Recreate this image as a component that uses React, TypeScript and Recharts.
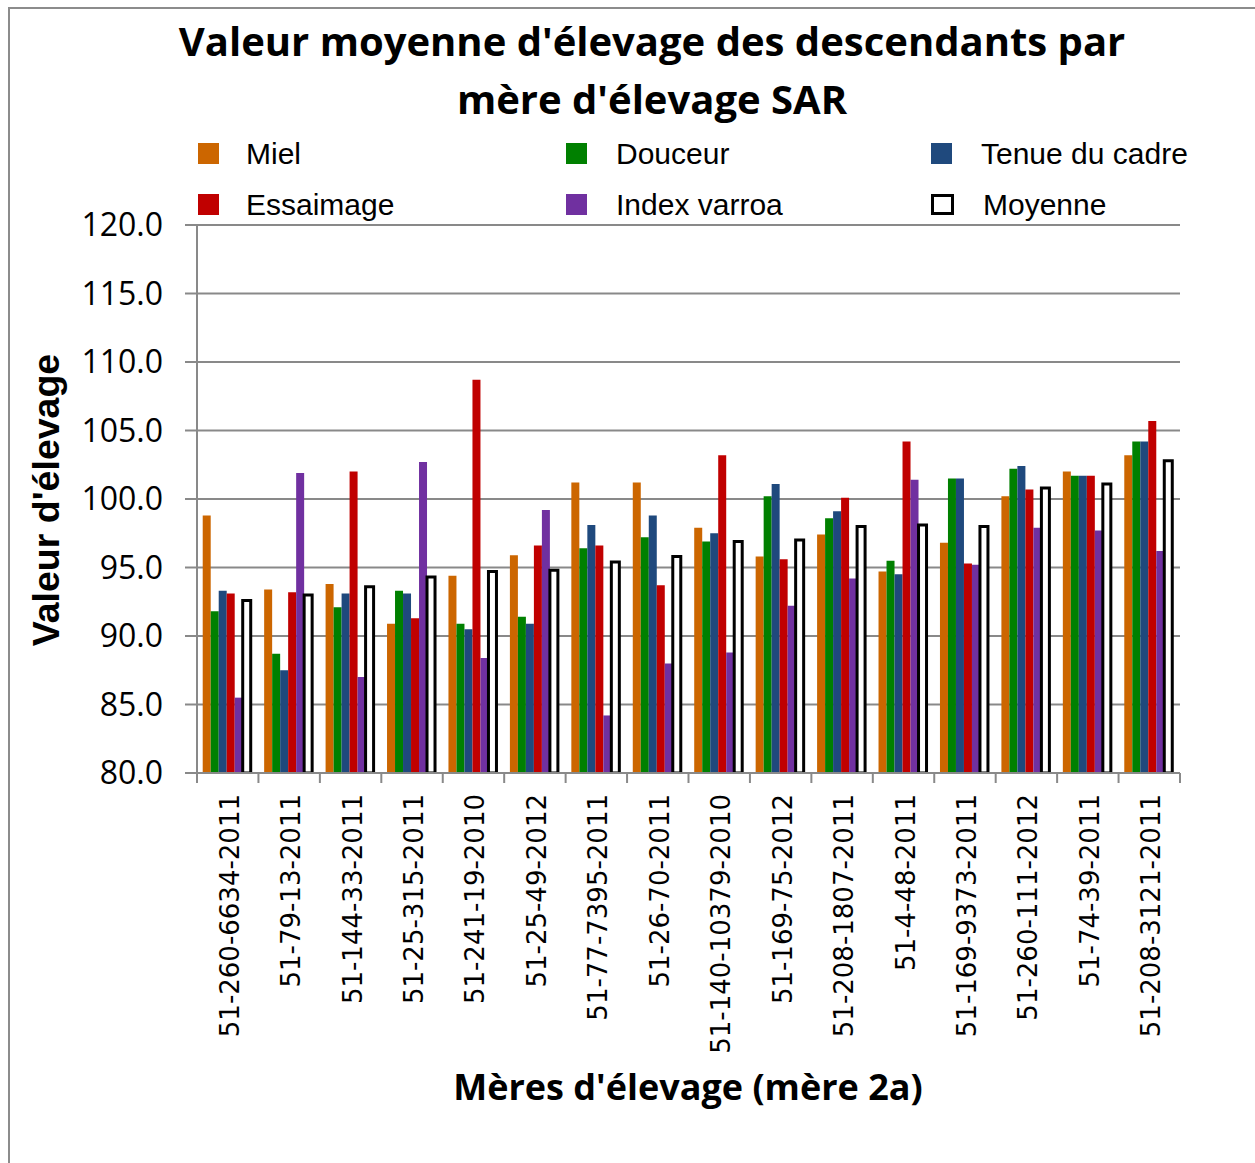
import React from 'react';
import { BarChart, Bar, XAxis, YAxis, CartesianGrid, Legend } from 'recharts';

const categories = [
  '51-260-6634-2011', '51-79-13-2011', '51-144-33-2011', '51-25-315-2011',
  '51-241-19-2010', '51-25-49-2012', '51-77-7395-2011', '51-26-70-2011',
  '51-140-10379-2010', '51-169-75-2012', '51-208-1807-2011', '51-4-48-2011',
  '51-169-9373-2011', '51-260-111-2012', '51-74-39-2011', '51-208-3121-2011',
];
const miel = [98.8, 93.4, 93.8, 90.9, 94.4, 95.9, 101.2, 101.2, 97.9, 95.8, 97.4, 94.7, 96.8, 100.2, 102.0, 103.2];
const douceur = [91.8, 88.7, 92.1, 93.3, 90.9, 91.4, 96.4, 97.2, 96.9, 100.2, 98.6, 95.5, 101.5, 102.2, 101.7, 104.2];
const tenue = [93.3, 87.5, 93.1, 93.1, 90.5, 90.9, 98.1, 98.8, 97.5, 101.1, 99.1, 94.5, 101.5, 102.4, 101.7, 104.2];
const essaimage = [93.1, 93.2, 102.0, 91.3, 108.7, 96.6, 96.6, 93.7, 103.2, 95.6, 100.1, 104.2, 95.3, 100.7, 101.7, 105.7];
const varroa = [85.5, 101.9, 87.0, 102.7, 88.4, 99.2, 84.2, 88.0, 88.8, 92.2, 94.2, 101.4, 95.2, 97.9, 97.7, 96.2];
const moyenne = [92.6, 93.0, 93.6, 94.3, 94.7, 94.8, 95.4, 95.8, 96.9, 97.0, 98.0, 98.1, 98.0, 100.8, 101.1, 102.8];
const yTicks = [80, 85, 90, 95, 100, 105, 110, 115, 120];

const seriesKeys = ['miel', 'douceur', 'tenue', 'essaimage', 'varroa', 'moyenne'];
const seriesNames = ['Miel', 'Douceur', 'Tenue du cadre', 'Essaimage', 'Index varroa', 'Moyenne'];
const seriesColors = ['#CC6600', '#008000', '#1F497D', '#C00000', '#7030A0', '#FFFFFF'];

const data = categories.map((name, i) => ({
  name,
  miel: miel[i],
  douceur: douceur[i],
  tenue: tenue[i],
  essaimage: essaimage[i],
  varroa: varroa[i],
  moyenne: moyenne[i],
}));

const GRID = '#898989';
const W = 1255;
const H = 1163;
const M = { top: 225, right: 75, bottom: 100, left: 0 };
const FALLBACK_HALF_BAND = (W - 197 - M.right) / categories.length / 2;

const XTick = (props: any) => {
  const { x, y, payload, index } = props;
  const half = payload && typeof payload.offset === 'number' && payload.offset > 0 ? payload.offset : FALLBACK_HALF_BAND;
  return (
    <g>
      <line x1={x - half} x2={x - half} y1={y} y2={y + 10} stroke={GRID} strokeWidth={2} />
      {index === categories.length - 1 && (
        <line x1={x + half} x2={x + half} y1={y} y2={y + 10} stroke={GRID} strokeWidth={2} />
      )}
      <text
        transform={`translate(${x + 2},${y + 21}) rotate(-90)`}
        textAnchor="end"
        dominantBaseline="central"
        fontFamily="DejaVu Sans"
        fontSize={26}
        fill="#000"
      >
        {payload.value}
      </text>
    </g>
  );
};

const renderLegend = (props: any) => {
  const payload = (props && props.payload) || [];
  const items = seriesKeys.map((k, i) => {
    const p = payload.find((e: any) => e.dataKey === k);
    return { name: p ? p.value : seriesNames[i], color: seriesColors[i] };
  });
  const colX = [0, 368, 733];
  return (
    <div style={{ position: 'relative', width: 1000, height: 100 }}>
      {items.map((it, i) => {
        const row = Math.floor(i / 3);
        const col = i % 3;
        const isMoy = i === 5;
        return (
          <div
            key={it.name}
            style={{ position: 'absolute', left: colX[col], top: row * 51, height: 21, display: 'flex', alignItems: 'center' }}
          >
            <div
              style={{
                width: isMoy ? 17 : 21,
                height: isMoy ? 15 : 21,
                background: it.color,
                border: isMoy ? '3px solid #000' : 'none',
                marginRight: col === 0 ? 27 : 29,
                flex: 'none',
              }}
            />
            <span style={{ fontFamily: 'Liberation Sans, Arial, sans-serif', fontSize: 30, color: '#000', whiteSpace: 'nowrap', lineHeight: '21px' }}>
              {it.name}
            </span>
          </div>
        );
      })}
    </div>
  );
};

export default function App() {
  return (
    <div style={{ position: 'absolute', left: 0, top: 0, width: W, height: H, overflow: 'hidden', background: '#fff' }}>
      <div style={{ position: 'absolute', left: 8, top: 7, width: 1400, height: 1400, border: '2px solid #8c8c8c', boxSizing: 'border-box' }} />
      <div
        style={{
          position: 'absolute', left: 152, width: 1000, top: 12, textAlign: 'center',
          fontFamily: 'Open Sans, sans-serif', fontWeight: 700, fontSize: 40, lineHeight: '58px', color: '#000',
        }}
      >
        Valeur moyenne d'élevage des descendants par
        <br />
        mère d'élevage SAR
      </div>
      <div
        style={{
          position: 'absolute', left: 46, top: 500, transform: 'translate(-50%, -50%) rotate(-90deg)',
          fontFamily: 'Liberation Sans, Arial, sans-serif', fontWeight: 700, fontSize: 37.5, whiteSpace: 'nowrap', color: '#000',
        }}
      >
        Valeur d'élevage
      </div>
      <div
        style={{
          position: 'absolute', left: 688, top: 1086, transform: 'translate(-50%, -50%)',
          fontFamily: 'Open Sans, sans-serif', fontWeight: 700, fontSize: 36, whiteSpace: 'nowrap', color: '#000',
        }}
      >
        Mères d'élevage (mère 2a)
      </div>
      <div style={{ position: 'absolute', left: 0, top: 0 }}>
        <BarChart width={W} height={H} data={data} margin={M} barCategoryGap="9.3%" barGap={0}>
          <CartesianGrid vertical={false} stroke={GRID} strokeWidth={2} />
          <XAxis
            dataKey="name"
            interval={0}
            tickLine={false}
            tickSize={0}
            tickMargin={0}
            axisLine={{ stroke: GRID, strokeWidth: 2 }}
            height={290}
            tick={<XTick />}
          />
          <YAxis
            domain={[80, 120]}
            ticks={yTicks}
            interval={0}
            allowDataOverflow
            width={197}
            tickSize={12}
            tickMargin={22}
            tickFormatter={(v: number) => v.toFixed(1)}
            axisLine={{ stroke: GRID, strokeWidth: 2 }}
            tickLine={{ stroke: GRID, strokeWidth: 2 }}
            tick={{ fontFamily: 'Open Sans, sans-serif', fontSize: 32, fill: '#000' }}
          />
          <Legend
            layout="vertical"
            align="center"
            verticalAlign="middle"
            content={renderLegend}
            wrapperStyle={{ position: 'absolute', left: 198, top: 143, width: 1000, height: 100 }}
          />
          {seriesKeys.map((k, i) => (
            <Bar
              key={k}
              dataKey={k}
              name={seriesNames[i]}
              fill={seriesColors[i]}
              stroke={k === 'moyenne' ? '#000' : undefined}
              strokeWidth={k === 'moyenne' ? 3 : 0}
              isAnimationActive={false}
            />
          ))}
        </BarChart>
      </div>
    </div>
  );
}
